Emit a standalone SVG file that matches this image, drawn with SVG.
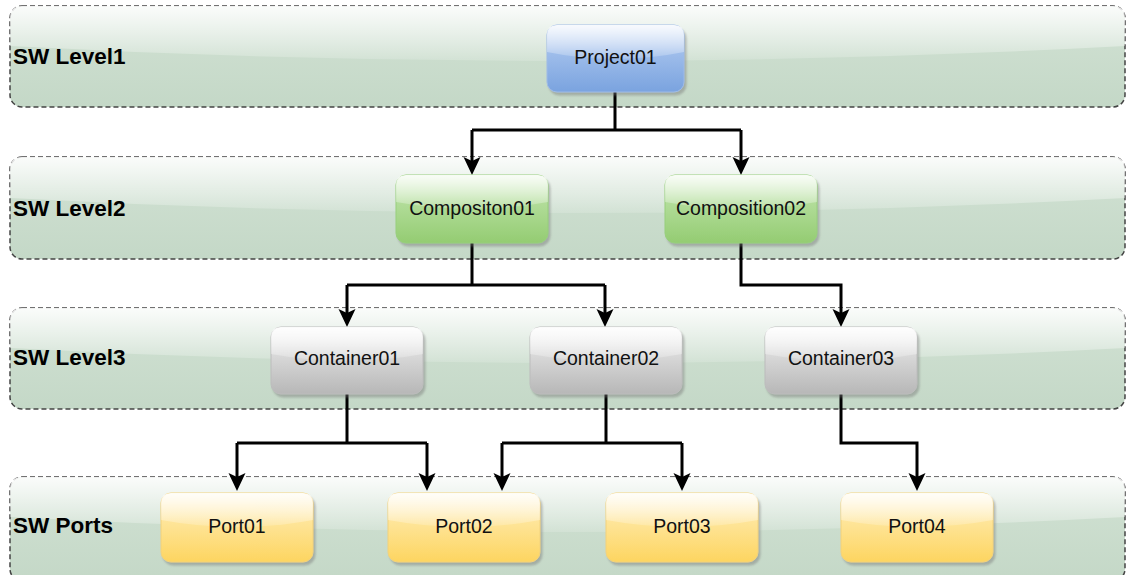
<svg xmlns="http://www.w3.org/2000/svg" width="1127" height="575" viewBox="0 0 1127 575">
  <defs>
    <linearGradient id="laneFill" x1="0" y1="0" x2="0" y2="1">
      <stop offset="0" stop-color="#d2e2d4"/>
      <stop offset="1" stop-color="#c4d8c7"/>
    </linearGradient>
    <linearGradient id="glass" x1="0" y1="0" x2="0" y2="1">
      <stop offset="0" stop-color="#ffffff" stop-opacity="0.9"/>
      <stop offset="1" stop-color="#ffffff" stop-opacity="0.15"/>
    </linearGradient>
    <linearGradient id="blueFill" x1="0" y1="0" x2="0" y2="1">
      <stop offset="0" stop-color="#b9d0f3"/>
      <stop offset="1" stop-color="#7aa3df"/>
    </linearGradient>
    <linearGradient id="greenFill" x1="0" y1="0" x2="0" y2="1">
      <stop offset="0" stop-color="#c6e8b4"/>
      <stop offset="1" stop-color="#94cc72"/>
    </linearGradient>
    <linearGradient id="grayFill" x1="0" y1="0" x2="0" y2="1">
      <stop offset="0" stop-color="#f1f1f1"/>
      <stop offset="1" stop-color="#b7b7b7"/>
    </linearGradient>
    <linearGradient id="yellowFill" x1="0" y1="0" x2="0" y2="1">
      <stop offset="0" stop-color="#fff0c2"/>
      <stop offset="1" stop-color="#fdd560"/>
    </linearGradient>
    <filter id="shadow" x="-10%" y="-10%" width="130%" height="140%">
      <feDropShadow dx="2" dy="3" stdDeviation="1.2" flood-color="#777777" flood-opacity="0.45"/>
    </filter>
    <marker id="arrow" viewBox="-2 -10 22 20" markerWidth="22" markerHeight="20" refX="4" refY="0" orient="auto" markerUnits="userSpaceOnUse">
      <path d="M0,-8.5 L18,0 L0,8.5 L4,0 Z" fill="#000000"/>
    </marker>
  </defs>
  <style>
    .lane { fill: url(#laneFill); stroke: #444444; stroke-width: 1.5; stroke-dasharray: 5 3; }
    .lane-glass { fill: url(#glass); }
    .lane-label { font-family: "Liberation Sans", Arial, sans-serif; font-weight: bold; font-size: 22.5px; fill: #000000; }
    .node-label { font-family: "Liberation Sans", Arial, sans-serif; font-size: 19.5px; fill: #111111; text-anchor: middle; dominant-baseline: central; }
    .node-glass { fill: url(#glass); }
    .blue { fill: url(#blueFill); stroke: #9fbbe6; stroke-width: 1; }
    .green { fill: url(#greenFill); stroke: #97cf7c; stroke-width: 1; }
    .gray { fill: url(#grayFill); stroke: #bcbcbc; stroke-width: 1; }
    .yellow { fill: url(#yellowFill); stroke: #f2d27c; stroke-width: 1; }
    .edge { fill: none; stroke: #000000; stroke-width: 3; marker-end: url(#arrow); }
    .stem { fill: none; stroke: #000000; stroke-width: 3; }
  </style>

  <!-- Swimlanes -->
  <g id="lane-level1">
    <rect class="lane" x="10" y="6" width="1115" height="101" rx="12"/>
    <path class="lane-glass" d="M22,6 H1113 Q1125,6 1125,18 V46 Q567,76 10,46 V18 Q10,6 22,6 Z"/>
    <text class="lane-label" x="13" y="64">SW Level1</text>
  </g>
  <g id="lane-level2">
    <rect class="lane" x="10" y="157" width="1115" height="102" rx="12"/>
    <path class="lane-glass" d="M22,157 H1113 Q1125,157 1125,169 V198 Q567,228 10,198 V169 Q10,157 22,157 Z"/>
    <text class="lane-label" x="13" y="216">SW Level2</text>
  </g>
  <g id="lane-level3">
    <rect class="lane" x="10" y="308" width="1115" height="101" rx="12"/>
    <path class="lane-glass" d="M22,308 H1113 Q1125,308 1125,320 V348 Q567,378 10,348 V320 Q10,308 22,308 Z"/>
    <text class="lane-label" x="13" y="365">SW Level3</text>
  </g>
  <g id="lane-ports">
    <rect class="lane" x="10" y="477" width="1115" height="104" rx="12"/>
    <path class="lane-glass" d="M22,477 H1113 Q1125,477 1125,489 V517 Q567,547 10,517 V489 Q10,477 22,477 Z"/>
    <text class="lane-label" x="13" y="533">SW Ports</text>
  </g>

  <!-- Connectors -->
  <g id="connectors">
    <path class="stem" d="M615,92 V130 M472,130 H741"/>
    <path class="edge" d="M472,130 V161"/>
    <path class="edge" d="M741,130 V161"/>

    <path class="stem" d="M472,243 V285 M347,285 H605"/>
    <path class="edge" d="M347,285 V313"/>
    <path class="edge" d="M605,285 V313"/>
    <path class="edge" d="M741,243 V285 H841 V313"/>

    <path class="stem" d="M347,394 V443 M237,443 H427"/>
    <path class="edge" d="M237,443 V477"/>
    <path class="edge" d="M427,443 V477"/>
    <path class="stem" d="M606,394 V443 M502,443 H682"/>
    <path class="edge" d="M502,443 V477"/>
    <path class="edge" d="M682,443 V477"/>
    <path class="edge" d="M841,394 V443 H917 V477"/>
  </g>

  <!-- Nodes -->
  <g id="project01">
    <rect class="blue" x="547" y="25" width="137" height="67" rx="10" filter="url(#shadow)"/>
    <path class="node-glass" d="M557,25 H674 Q684,25 684,35 V52 Q615,66 547,52 V35 Q547,25 557,25 Z"/>
    <text class="node-label" x="615.5" y="57">Project01</text>
  </g>

  <g id="composition01">
    <rect class="green" x="396" y="175" width="152" height="68" rx="10" filter="url(#shadow)"/>
    <path class="node-glass" d="M406,175 H538 Q548,175 548,185 V202 Q472,216 396,202 V185 Q396,175 406,175 Z"/>
    <text class="node-label" x="472" y="208">Compositon01</text>
  </g>
  <g id="composition02">
    <rect class="green" x="665" y="175" width="152" height="68" rx="10" filter="url(#shadow)"/>
    <path class="node-glass" d="M675,175 H807 Q817,175 817,185 V202 Q741,216 665,202 V185 Q665,175 675,175 Z"/>
    <text class="node-label" x="741" y="208">Composition02</text>
  </g>

  <g id="container01">
    <rect class="gray" x="271" y="327" width="152" height="67" rx="10" filter="url(#shadow)"/>
    <path class="node-glass" d="M281,327 H413 Q423,327 423,337 V354 Q347,368 271,354 V337 Q271,327 281,327 Z"/>
    <text class="node-label" x="347" y="358">Container01</text>
  </g>
  <g id="container02">
    <rect class="gray" x="530" y="327" width="152" height="67" rx="10" filter="url(#shadow)"/>
    <path class="node-glass" d="M540,327 H672 Q682,327 682,337 V354 Q606,368 530,354 V337 Q530,327 540,327 Z"/>
    <text class="node-label" x="606" y="358">Container02</text>
  </g>
  <g id="container03">
    <rect class="gray" x="765" y="327" width="152" height="67" rx="10" filter="url(#shadow)"/>
    <path class="node-glass" d="M775,327 H907 Q917,327 917,337 V354 Q841,368 765,354 V337 Q765,327 775,327 Z"/>
    <text class="node-label" x="841" y="358">Container03</text>
  </g>

  <g id="port01">
    <rect class="yellow" x="161" y="493" width="152" height="69" rx="10" filter="url(#shadow)"/>
    <path class="node-glass" d="M171,493 H303 Q313,493 313,503 V520 Q237,534 161,520 V503 Q161,493 171,493 Z"/>
    <text class="node-label" x="237" y="526">Port01</text>
  </g>
  <g id="port02">
    <rect class="yellow" x="388" y="493" width="152" height="69" rx="10" filter="url(#shadow)"/>
    <path class="node-glass" d="M398,493 H530 Q540,493 540,503 V520 Q464,534 388,520 V503 Q388,493 398,493 Z"/>
    <text class="node-label" x="464" y="526">Port02</text>
  </g>
  <g id="port03">
    <rect class="yellow" x="606" y="493" width="152" height="69" rx="10" filter="url(#shadow)"/>
    <path class="node-glass" d="M616,493 H748 Q758,493 758,503 V520 Q682,534 606,520 V503 Q606,493 616,493 Z"/>
    <text class="node-label" x="682" y="526">Port03</text>
  </g>
  <g id="port04">
    <rect class="yellow" x="841" y="493" width="152" height="69" rx="10" filter="url(#shadow)"/>
    <path class="node-glass" d="M851,493 H983 Q993,493 993,503 V520 Q917,534 841,520 V503 Q841,493 851,493 Z"/>
    <text class="node-label" x="917" y="526">Port04</text>
  </g>
</svg>
